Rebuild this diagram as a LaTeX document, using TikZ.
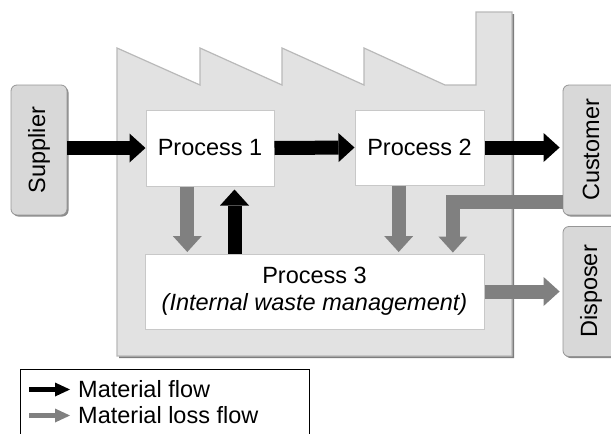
\documentclass[tikz,border=0pt]{standalone}
\usepackage{fontspec}
\setmainfont{Liberation Sans}
\usetikzlibrary{arrows.meta,calc,shadows}
\definecolor{factfill}{RGB}{226,226,226}
\definecolor{factedge}{RGB}{185,185,185}
\definecolor{factshadow}{RGB}{125,125,125}
\definecolor{extfill}{RGB}{216,216,216}
\definecolor{extedge}{RGB}{150,150,150}
\definecolor{lossgray}{RGB}{128,128,128}
\definecolor{procedge}{RGB}{200,200,200}
\begin{document}
\begin{tikzpicture}[x=1pt,y=-1pt,
  font=\fontsize{23.5}{27}\selectfont,
  procbox/.style={draw=procedge, line width=1pt, fill=white, inner sep=0pt, align=center},
  extbox/.style={draw=extedge, line width=0.8pt, fill=extfill, rounded corners=6pt,
    minimum width=56pt, minimum height=130pt, inner sep=0pt,
    drop shadow={shadow xshift=1.5pt, shadow yshift=-1.5pt, fill=factshadow, opacity=0.9}},
  bigtip/.style={-{Triangle[width=29pt,length=16pt,line width=0pt]}},
  matflow/.style={line width=14pt, draw=black, bigtip},
  lossflow/.style={line width=14pt, draw=lossgray, bigtip, line join=miter},
  legtip/.style={-{Triangle[width=14pt,length=15pt,line width=0pt]}},
  legmat/.style={line width=5.5pt, draw=black, legtip},
  legloss/.style={line width=5.5pt, draw=lossgray, legtip},
  legtext/.style={anchor=west, inner sep=0pt}
]
\useasboundingbox (0,0) rectangle (611,434);
\clip (0,0) rectangle (611,434);

% factory building
\fill[factshadow, shift={(2,2)}]
  (117,48) -- (200,85) -- (200,48) -- (282,85) -- (282,48) -- (364,85) -- (364,48)
  -- (445,85) -- (476,85) -- (476,12) -- (512,12) -- (512,356) -- (117,356) -- cycle;
\filldraw[fill=factfill, draw=factedge, line width=1.2pt, line join=miter]
  (117,48) -- (200,85) -- (200,48) -- (282,85) -- (282,48) -- (364,85) -- (364,48)
  -- (445,85) -- (476,85) -- (476,12) -- (512,12) -- (512,356) -- (117,356) -- cycle;

% external partners
\node[extbox] (supplier) at (39,150) {\rotatebox{90}{Supplier}};
\node[extbox] (customer) at (591,150) {\rotatebox{90}{Customer}};
\node[extbox] (disposer) at (591,291.5) {\rotatebox{90}{Disposer}};

% processes
\node[procbox, minimum width=128pt, minimum height=76pt] (p1) at (210,148) {Process 1};
\node[procbox, minimum width=129pt, minimum height=75pt] (p2) at (419.5,147.5) {Process 2};
\node[procbox, minimum width=339pt, minimum height=75pt] (p3) at (314.5,291.5)
  {Process 3\\\textit{(Internal waste management)}};

% helper points on box edges
\coordinate (a1) at ($(p1.south west)!0.324!(p1.south east)$);
\coordinate (b1) at ($(p1.south west)!0.69!(p1.south east)$);
\coordinate (a2) at ($(p2.south west)!0.34!(p2.south east)$);
\coordinate (r0) at ($(customer.north west)!0.9!(customer.south west)$);
\coordinate (r1) at ($(p3.north west)!0.907!(p3.north east)$);

% material flows
\draw[matflow] (supplier.east |- p1.west) -- (p1.west);
\draw[matflow] (p1.east) -- (p2.west);
\draw[matflow, shorten >=3pt] (p2.east) -- (p2.east -| customer.west);
\draw[matflow, shorten >=3pt] (b1 |- p3.north) -- (b1);

% material loss flows
\draw[lossflow, shorten >=1.5pt] (a1) -- (a1 |- p3.north);
\draw[lossflow, shorten >=1.5pt] (a2) -- (a2 |- p3.north);
\draw[lossflow, shorten >=1pt] (r0) -| (r1);
\draw[lossflow, shorten >=3pt] (p3.east) -- (p3.east -| disposer.west);

% legend
\node[draw=black, line width=0.9pt, minimum width=289pt, minimum height=90pt,
  anchor=north west, inner sep=0pt] (legend) at (20,369) {};
\node[legtext] (lt1) at (78,389.5) {Material flow};
\node[legtext] (lt2) at (78,415.5) {Material loss flow};
\coordinate (la1) at (29,389.5);
\coordinate (la2) at (29,415.5);
\draw[legmat] (la1) -- ($(lt1.west)+(-8,0)$);
\draw[legloss] (la2) -- ($(lt2.west)+(-8,0)$);
\end{tikzpicture}
\end{document}
